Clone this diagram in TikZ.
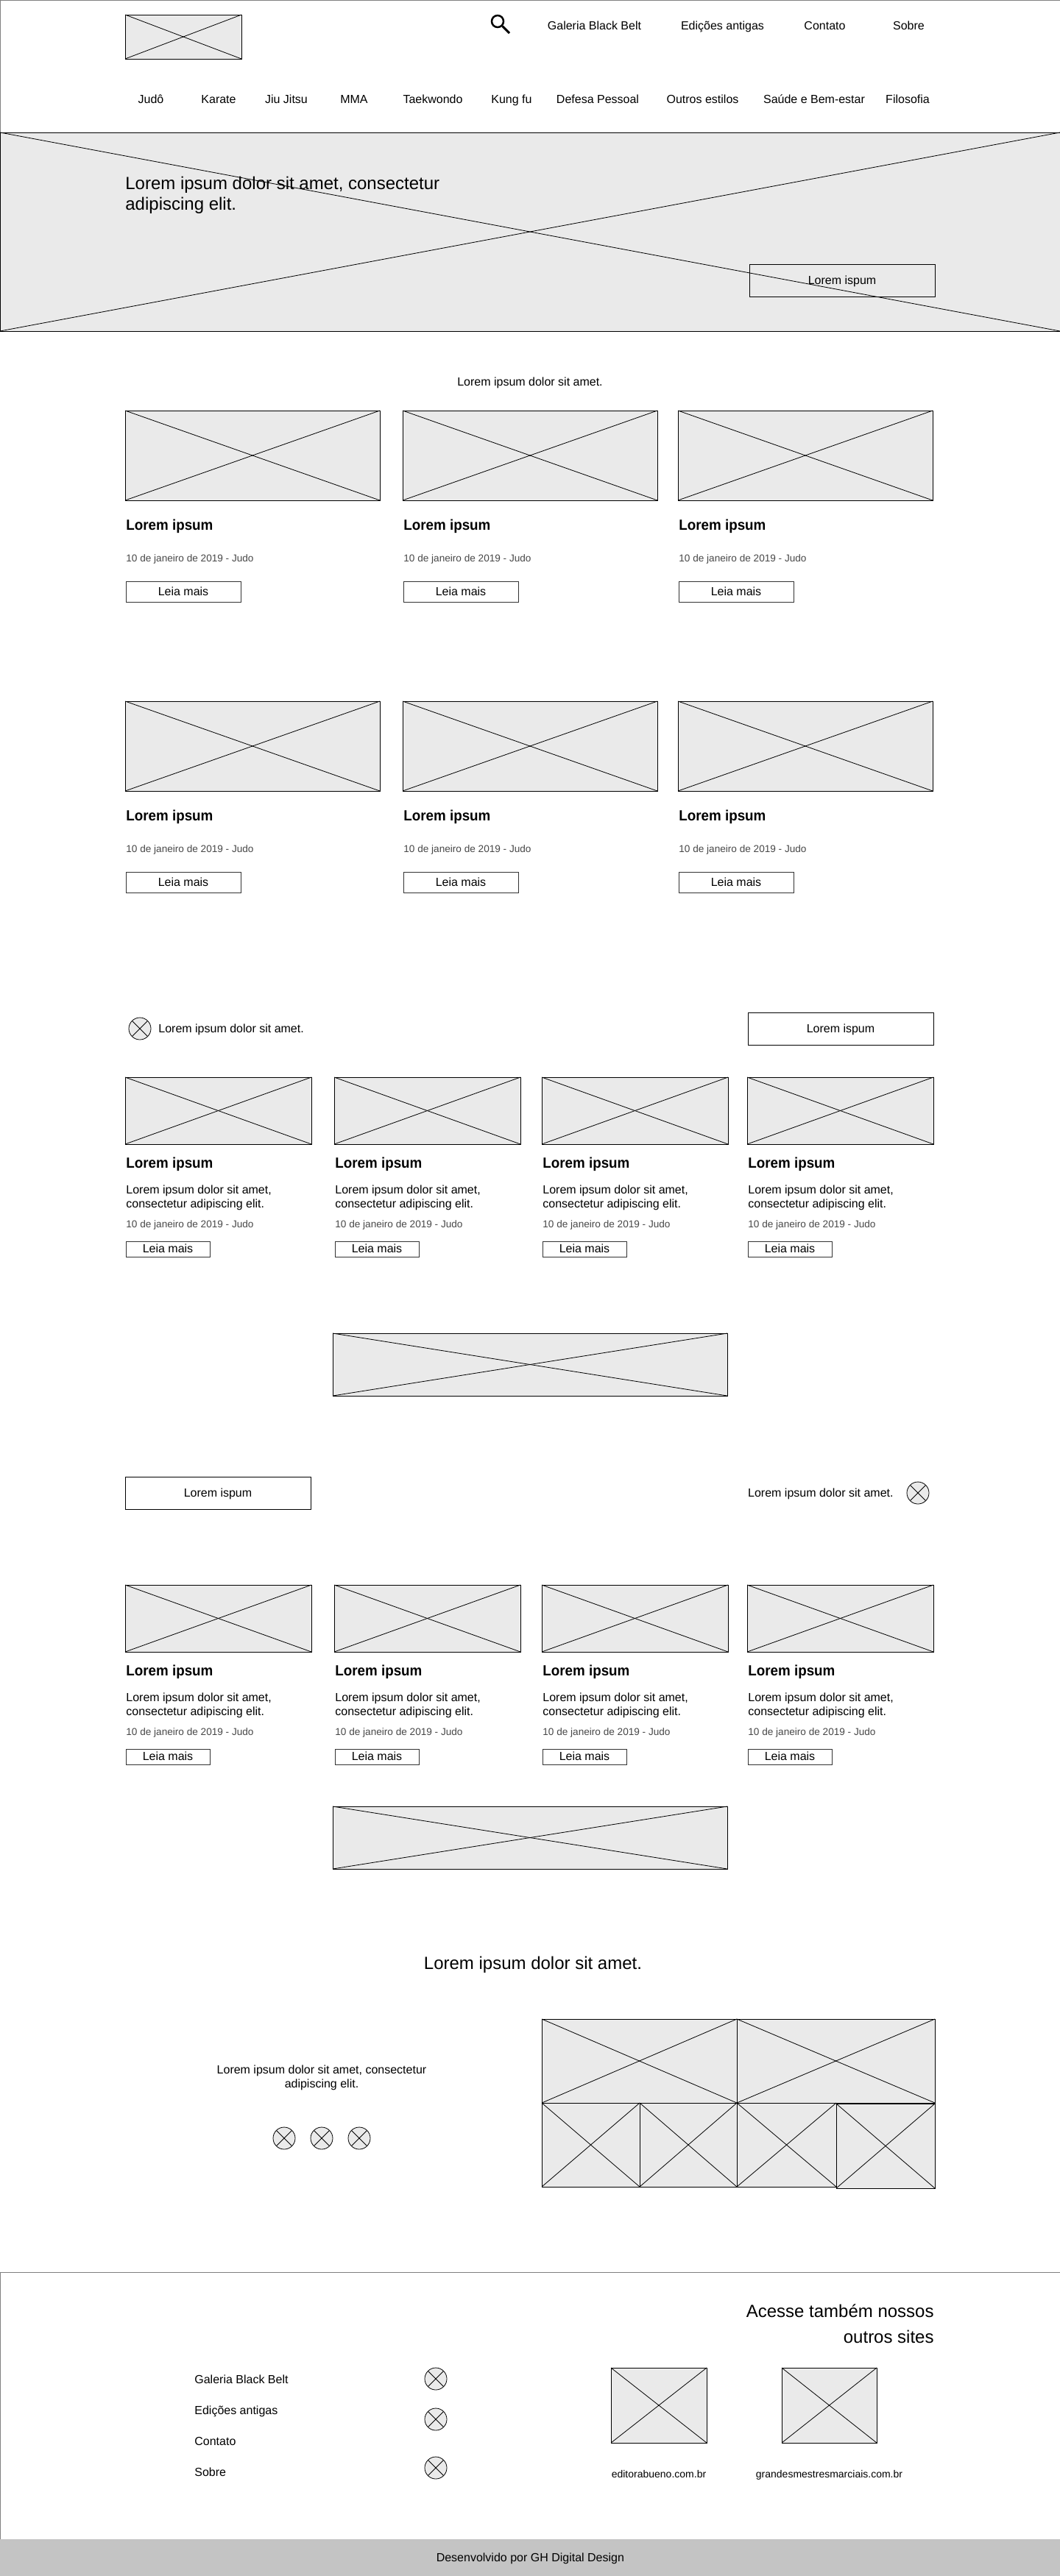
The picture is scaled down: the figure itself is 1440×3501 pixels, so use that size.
\documentclass[tikz,border=0pt]{standalone}
\usepackage{fontspec}
\setmainfont[BoldFeatures={FakeStretch=0.94}]{Liberation Sans}
\usepackage{tikz}
\usetikzlibrary{positioning}
\definecolor{imgfill}{HTML}{EAEAEA}
\definecolor{bandfill}{HTML}{C4C4C4}
\definecolor{framegray}{HTML}{808080}

\begin{document}
\begin{tikzpicture}[x=1pt, y=-1pt, line width=0.8pt]
\tikzstyle{imgbox}=[draw, fill=imgfill, inner sep=0pt, outer sep=0pt, anchor=north west, append after command={
      (\tikzlastnode.north west) edge (\tikzlastnode.south east)
      (\tikzlastnode.north east) edge (\tikzlastnode.south west)}]
\tikzstyle{wideimg}=[imgbox, minimum width=346pt, minimum height=122pt]
\tikzstyle{cardimg}=[imgbox, minimum width=253pt, minimum height=91pt]
\tikzstyle{bannerimg}=[imgbox, minimum width=536pt, minimum height=85pt]
\tikzstyle{icon}=[draw, circle, fill=imgfill, inner sep=0pt, outer sep=0pt, minimum size=30pt, append after command={
      (\tikzlastnode.north west) edge (\tikzlastnode.south east)
      (\tikzlastnode.north east) edge (\tikzlastnode.south west)}]
\tikzstyle{label}=[inner sep=0pt, text height=13.6pt, text depth=3pt, font=\fontsize{16pt}{19pt}\selectfont]
\tikzstyle{leftlabel}=[label, anchor=west, align=left]
\tikzstyle{parlabel}=[inner sep=0pt, anchor=west, align=left, font=\fontsize{16pt}{19pt}\selectfont]
\tikzstyle{biglabel}=[inner sep=0pt, text height=20.4pt, text depth=4.6pt, font=\fontsize{24pt}{28pt}\selectfont]
\tikzstyle{bigpar}=[inner sep=0pt, font=\fontsize{24pt}{28pt}\selectfont]
\tikzstyle{headline}=[inner sep=0pt, anchor=west, text height=17pt, text depth=3.8pt, font=\fontsize{20pt}{24pt}\selectfont\bfseries]
\tikzstyle{datelabel}=[inner sep=0pt, anchor=west, text=black!72, text height=11.6pt, text depth=2.6pt, font=\fontsize{13.6pt}{17pt}\selectfont]
\tikzstyle{sitelabel}=[inner sep=0pt, text height=12pt, text depth=2.7pt, font=\fontsize{14pt}{17pt}\selectfont]
\tikzstyle{readbtn}=[draw=black!80, inner sep=0pt, outer sep=0pt, anchor=north west, minimum width=156pt, minimum height=28pt, text height=13.6pt, text depth=3pt, font=\fontsize{16pt}{19pt}\selectfont]
\tikzstyle{smallbtn}=[readbtn, minimum width=114pt, minimum height=21pt]
\tikzstyle{widebtn}=[draw, inner sep=0pt, outer sep=0pt, anchor=north west, minimum width=252pt, minimum height=44pt, text height=13.6pt, text depth=3pt, font=\fontsize{16pt}{19pt}\selectfont]

\useasboundingbox (0,0) rectangle (1440,3501);

% header
\node (head) at (0,0) [draw=framegray, anchor=north west, inner sep=0pt, minimum width=1440pt, minimum height=180pt] {};
\node (logo) at (170,20) [imgbox, minimum width=158pt, minimum height=60pt] {};
\node (lens) at (676,29) [draw, circle, line width=2.5pt, inner sep=0pt, minimum size=16pt] {};
\coordinate (lensend) at (692,45);
\draw[line width=3pt] (lens) -- (lensend);

\node (galeria) at (807.5,35) [label] {Galeria Black Belt};
\node (edicoes) at (981.5,35) [label] {Edições antigas};
\node (contato) at (1120.5,35) [label] {Contato};
\node (sobre) at (1234.5,35) [label] {Sobre};

% menu
\node (judo) at (205,135) [label] {Judô};
\node (karate) at (297,135) [label] {Karate};
\node (jiujitsu) at (389,135) [label] {Jiu Jitsu};
\node (mma) at (481,135) [label] {MMA};
\node (taekwondo) at (588,135) [label] {Taekwondo};
\node (kungfu) at (695,135) [label] {Kung fu};
\node (defesa) at (812,135) [label] {Defesa Pessoal};
\node (outros) at (954.5,135) [label] {Outros estilos};
\node (saude) at (1106,135) [label] {Saúde e Bem-estar};
\node (filosofia) at (1233,135) [label] {Filosofia};

% hero
\node (hero) at (0,180) [imgbox, minimum width=1440pt, minimum height=270pt] {};
\node (herotext) at (170,265) [bigpar, anchor=west, align=left] {Lorem ipsum dolor sit amet, consectetur\\adipiscing elit.};
\node (herobtn) at (1018,359) [widebtn] {Lorem ispum};

% first rows
\node (intro) at (720,519) [label] {Lorem ipsum dolor sit amet.};

\node (imga1) at (170,558) [wideimg] {};
\node (imga2) at (547,558) [wideimg] {};
\node (imga3) at (921,558) [wideimg] {};
\node (ttla1) [below=34pt of imga1.south west, headline, xshift=1pt] {Lorem ipsum};
\node (ttla2) [below=34pt of imga2.south west, headline, xshift=1pt] {Lorem ipsum};
\node (ttla3) [below=34pt of imga3.south west, headline, xshift=1pt] {Lorem ipsum};
\node (data1) [below=45pt of ttla1.west, datelabel] {10 de janeiro de 2019 - Judo};
\node (data2) [below=45pt of ttla2.west, datelabel] {10 de janeiro de 2019 - Judo};
\node (data3) [below=45pt of ttla3.west, datelabel] {10 de janeiro de 2019 - Judo};
\node (btna1) [below=31pt of data1.west, readbtn] {Leia mais};
\node (btna2) [below=31pt of data2.west, readbtn] {Leia mais};
\node (btna3) [below=31pt of data3.west, readbtn] {Leia mais};

\node (imgb1) at (170,953) [wideimg] {};
\node (imgb2) at (547,953) [wideimg] {};
\node (imgb3) at (921,953) [wideimg] {};
\node (ttlb1) [below=34pt of imgb1.south west, headline, xshift=1pt] {Lorem ipsum};
\node (ttlb2) [below=34pt of imgb2.south west, headline, xshift=1pt] {Lorem ipsum};
\node (ttlb3) [below=34pt of imgb3.south west, headline, xshift=1pt] {Lorem ipsum};
\node (datb1) [below=45pt of ttlb1.west, datelabel] {10 de janeiro de 2019 - Judo};
\node (datb2) [below=45pt of ttlb2.west, datelabel] {10 de janeiro de 2019 - Judo};
\node (datb3) [below=45pt of ttlb3.west, datelabel] {10 de janeiro de 2019 - Judo};
\node (btnb1) [below=31pt of datb1.west, readbtn] {Leia mais};
\node (btnb2) [below=31pt of datb2.west, readbtn] {Leia mais};
\node (btnb3) [below=31pt of datb3.west, readbtn] {Leia mais};

% section c
\node (iconc) at (190,1398) [icon] {};
\node (textc) [right=10pt of iconc, leftlabel] {Lorem ipsum dolor sit amet.};
\node (btnc) at (1016,1376) [widebtn] {Lorem ispum};

\node (imgc1) at (170,1464) [cardimg] {};
\node (imgc2) at (454,1464) [cardimg] {};
\node (imgc3) at (736,1464) [cardimg] {};
\node (imgc4) at (1015,1464) [cardimg] {};
\node (ttlc1) [below=26pt of imgc1.south west, headline, xshift=1pt] {Lorem ipsum};
\node (ttlc2) [below=26pt of imgc2.south west, headline, xshift=1pt] {Lorem ipsum};
\node (ttlc3) [below=26pt of imgc3.south west, headline, xshift=1pt] {Lorem ipsum};
\node (ttlc4) [below=26pt of imgc4.south west, headline, xshift=1pt] {Lorem ipsum};
\node (parc1) [below=46.5pt of ttlc1.west, parlabel] {Lorem ipsum dolor sit amet,\\consectetur adipiscing elit.};
\node (parc2) [below=46.5pt of ttlc2.west, parlabel] {Lorem ipsum dolor sit amet,\\consectetur adipiscing elit.};
\node (parc3) [below=46.5pt of ttlc3.west, parlabel] {Lorem ipsum dolor sit amet,\\consectetur adipiscing elit.};
\node (parc4) [below=46.5pt of ttlc4.west, parlabel] {Lorem ipsum dolor sit amet,\\consectetur adipiscing elit.};
\node (datc1) [below=36.5pt of parc1.west, datelabel] {10 de janeiro de 2019 - Judo};
\node (datc2) [below=36.5pt of parc2.west, datelabel] {10 de janeiro de 2019 - Judo};
\node (datc3) [below=36.5pt of parc3.west, datelabel] {10 de janeiro de 2019 - Judo};
\node (datc4) [below=36.5pt of parc4.west, datelabel] {10 de janeiro de 2019 - Judo};
\node (btnc1) [below=23pt of datc1.west, smallbtn] {Leia mais};
\node (btnc2) [below=23pt of datc2.west, smallbtn] {Leia mais};
\node (btnc3) [below=23pt of datc3.west, smallbtn] {Leia mais};
\node (btnc4) [below=23pt of datc4.west, smallbtn] {Leia mais};

\node (bannerc) at (452,1812) [bannerimg] {};

% section d
\node (btnd) at (170,2007) [widebtn] {Lorem ispum};
\node (icond) at (1247,2029) [icon] {};
\node (textd) [left=18pt of icond, label, anchor=east] {Lorem ipsum dolor sit amet.};

\node (imgd1) at (170,2154) [cardimg] {};
\node (imgd2) at (454,2154) [cardimg] {};
\node (imgd3) at (736,2154) [cardimg] {};
\node (imgd4) at (1015,2154) [cardimg] {};
\node (ttld1) [below=26pt of imgd1.south west, headline, xshift=1pt] {Lorem ipsum};
\node (ttld2) [below=26pt of imgd2.south west, headline, xshift=1pt] {Lorem ipsum};
\node (ttld3) [below=26pt of imgd3.south west, headline, xshift=1pt] {Lorem ipsum};
\node (ttld4) [below=26pt of imgd4.south west, headline, xshift=1pt] {Lorem ipsum};
\node (pard1) [below=46.5pt of ttld1.west, parlabel] {Lorem ipsum dolor sit amet,\\consectetur adipiscing elit.};
\node (pard2) [below=46.5pt of ttld2.west, parlabel] {Lorem ipsum dolor sit amet,\\consectetur adipiscing elit.};
\node (pard3) [below=46.5pt of ttld3.west, parlabel] {Lorem ipsum dolor sit amet,\\consectetur adipiscing elit.};
\node (pard4) [below=46.5pt of ttld4.west, parlabel] {Lorem ipsum dolor sit amet,\\consectetur adipiscing elit.};
\node (datd1) [below=36.5pt of pard1.west, datelabel] {10 de janeiro de 2019 - Judo};
\node (datd2) [below=36.5pt of pard2.west, datelabel] {10 de janeiro de 2019 - Judo};
\node (datd3) [below=36.5pt of pard3.west, datelabel] {10 de janeiro de 2019 - Judo};
\node (datd4) [below=36.5pt of pard4.west, datelabel] {10 de janeiro de 2019 - Judo};
\node (btnd1) [below=23pt of datd1.west, smallbtn] {Leia mais};
\node (btnd2) [below=23pt of datd2.west, smallbtn] {Leia mais};
\node (btnd3) [below=23pt of datd3.west, smallbtn] {Leia mais};
\node (btnd4) [below=23pt of datd4.west, smallbtn] {Leia mais};

\node (bannerd) at (452,2455) [bannerimg] {};

% gallery
\node (galtitle) at (724,2669) [biglabel] {Lorem ipsum dolor sit amet.};
\node (galtext) at (437,2824) [parlabel, anchor=center, align=center] {Lorem ipsum dolor sit amet, consectetur\\adipiscing elit.};
\node (galicon1) at (386,2906) [icon] {};
\node (galicon2) [right=21pt of galicon1, icon] {};
\node (galicon3) [right=21pt of galicon2, icon] {};

\node (galtop1) at (736,2744) [imgbox, minimum width=265pt, minimum height=114pt] {};
\node (galtop2) at (galtop1.north east) [imgbox, minimum width=269pt, minimum height=114pt] {};
\node (galbot1) at (galtop1.south west) [imgbox, minimum width=133pt, minimum height=114pt] {};
\node (galbot2) at (galbot1.north east) [imgbox, minimum width=132pt, minimum height=114pt] {};
\node (galbot3) at (galbot2.north east) [imgbox, minimum width=135pt, minimum height=114pt] {};
\node (galbot4) at ([yshift=-1pt]galbot3.north east) [imgbox, minimum width=134pt, minimum height=115pt] {};

% footer
\node (foot) at (0,3088) [draw=framegray, anchor=north west, inner sep=0pt, minimum width=1440pt, minimum height=363pt] {};
\node (foottitle) at (1269,3158) [bigpar, anchor=east, align=right, font=\fontsize{24pt}{35pt}\selectfont] {Acesse também nossos\\outros sites};

\node (footgaleria) at (264,3234) [leftlabel] {Galeria Black Belt};
\node (footedicoes) at (264,3276) [leftlabel] {Edições antigas};
\node (footcontato) at (264,3318) [leftlabel] {Contato};
\node (footsobre) at (264,3360) [leftlabel] {Sobre};

\node (footicon1) at (592,3233) [icon] {};
\node (footicon2) at (592,3288) [icon] {};
\node (footicon3) at (592,3354) [icon] {};

\node (site1) at (830,3218) [imgbox, minimum width=130pt, minimum height=102pt] {};
\node (site2) at (1062,3218) [imgbox, minimum width=129pt, minimum height=102pt] {};
\node (sitename1) [below=35pt of site1.south, sitelabel] {editorabueno.com.br};
\node (sitename2) [below=35pt of site2.south, sitelabel] {grandesmestresmarciais.com.br};

\node (band) at (0,3451) [fill=bandfill, anchor=north west, inner sep=0pt, minimum width=1440pt, minimum height=50pt, text height=13.6pt, text depth=3pt, font=\fontsize{16pt}{19pt}\selectfont] {Desenvolvido por GH Digital Design};

\end{tikzpicture}
\end{document}
